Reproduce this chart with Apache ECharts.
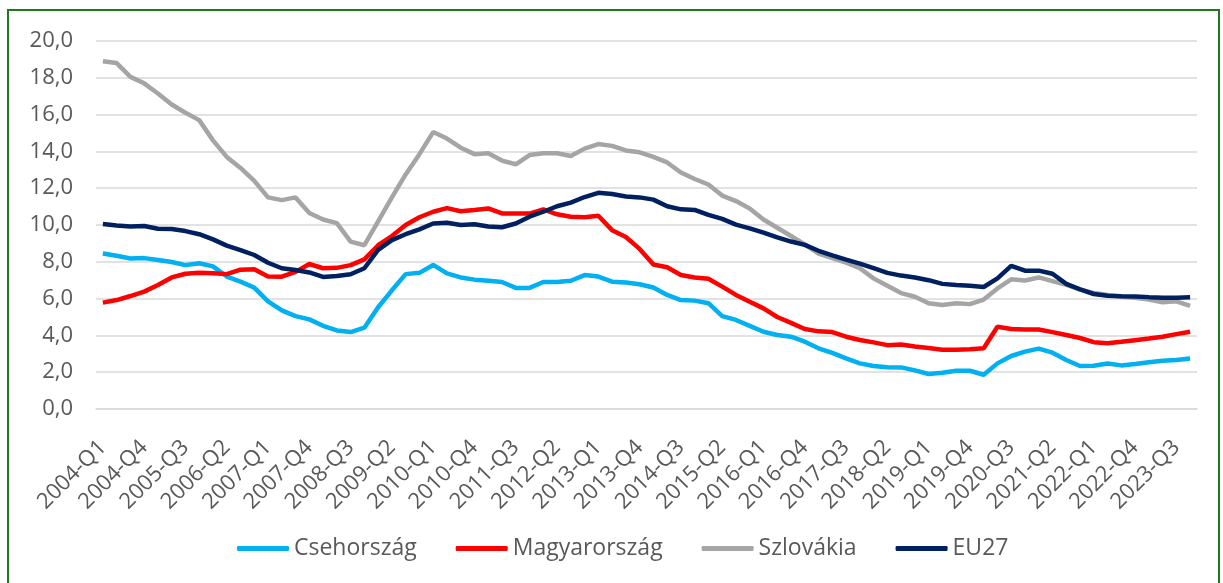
<!DOCTYPE html>
<html>
<head>
<meta charset="utf-8">
<script src="https://cdn.jsdelivr.net/npm/echarts@6/dist/echarts.min.js"></script>
<style>
    html, body { margin: 0; padding: 0; background: #fff; }
    #frame {
        position: absolute; left: 7px; top: 9px; width: 1213px; height: 600px;
        border-left: 2px solid #1f7a1f; border-top: 2px solid #1f7a1f; border-right: 2px solid #1f7a1f;
        box-sizing: border-box;
    }
    #chart { position: absolute; left: 0; top: 0; width: 1223px; height: 583px; }
</style>
</head>
<body>
<div id="frame"></div>
<div id="chart"></div>
<script>
    // negyedéves kategóriák 2004-Q1 ... 2023-Q4
    var years = [];
    for (var y = 2004; y <= 2023; y++) years.push(y);
    var quarters = ['Q1', 'Q2', 'Q3', 'Q4'];
    var categories = [];
    years.forEach(function (y) {
        quarters.forEach(function (q) { categories.push(y + '-' + q); });
    });

    var seriesNames = ['Csehország', 'Magyarország', 'Szlovákia', 'EU27'];
    var seriesColors = ['#00b0f0', '#ff0000', '#a5a5a5', '#002060'];

    var csehorszag = [
        8.45, 8.33, 8.18, 8.2, 8.1, 7.99, 7.82, 7.92, 7.75, 7.2,
        6.92, 6.6, 5.85, 5.36, 5.05, 4.87, 4.52, 4.27, 4.18, 4.42,
        5.53, 6.45, 7.33, 7.4, 7.83, 7.37, 7.15, 7.03, 6.97, 6.9,
        6.58, 6.58, 6.9, 6.9, 6.97, 7.28, 7.2, 6.92, 6.87, 6.78,
        6.6, 6.2, 5.92, 5.89, 5.75, 5.05, 4.84, 4.52, 4.2, 4.02,
        3.93, 3.66, 3.3, 3.05, 2.75, 2.48, 2.34, 2.27, 2.26, 2.1,
        1.9, 1.97, 2.08, 2.08, 1.86, 2.48, 2.88, 3.12, 3.28, 3.06,
        2.66, 2.34, 2.35, 2.47, 2.37, 2.45, 2.54, 2.62, 2.66, 2.75
    ];
    var magyarorszag = [
        5.78, 5.92, 6.14, 6.38, 6.74, 7.15, 7.35, 7.4, 7.38, 7.33,
        7.57, 7.6, 7.2, 7.19, 7.45, 7.88, 7.65, 7.67, 7.82, 8.13,
        8.9, 9.4, 10.0, 10.42, 10.72, 10.92, 10.75, 10.82, 10.9, 10.63,
        10.62, 10.62, 10.85, 10.58, 10.45, 10.42, 10.5, 9.72, 9.35, 8.7,
        7.85, 7.7, 7.28, 7.15, 7.08, 6.65, 6.2, 5.83, 5.47, 5.0,
        4.68, 4.35, 4.22, 4.18, 3.93, 3.75, 3.62, 3.47, 3.51, 3.4,
        3.32, 3.22, 3.22, 3.25, 3.3, 4.47, 4.35, 4.32, 4.32, 4.18,
        4.02, 3.86, 3.63, 3.57, 3.65, 3.74, 3.83, 3.93, 4.07, 4.2
    ];
    var szlovakia = [
        18.9, 18.8, 18.05, 17.7, 17.15, 16.55, 16.1, 15.7, 14.6, 13.7,
        13.1, 12.4, 11.5, 11.35, 11.5, 10.65, 10.3, 10.1, 9.1, 8.9,
        10.2, 11.5, 12.75, 13.85, 15.05, 14.7, 14.2, 13.85, 13.9, 13.5,
        13.3, 13.8, 13.9, 13.9, 13.75, 14.15, 14.4, 14.3, 14.05, 13.95,
        13.7, 13.4, 12.85, 12.5, 12.2, 11.6, 11.3, 10.9, 10.3, 9.85,
        9.4, 8.95, 8.45, 8.2, 7.95, 7.65, 7.1, 6.7, 6.3, 6.1,
        5.75, 5.65, 5.75, 5.7, 5.95, 6.55, 7.05, 6.98, 7.15, 6.95,
        6.75, 6.5, 6.3, 6.2, 6.1, 6.05, 5.95, 5.8, 5.85, 5.6
    ];
    var eu27 = [
        10.05, 9.97, 9.92, 9.95, 9.8, 9.78, 9.67, 9.5, 9.22, 8.88,
        8.64, 8.37, 7.95, 7.65, 7.55, 7.42, 7.18, 7.23, 7.32, 7.65,
        8.65, 9.18, 9.5, 9.76, 10.08, 10.12, 10.0, 10.04, 9.92, 9.88,
        10.08, 10.45, 10.72, 11.02, 11.22, 11.52, 11.75, 11.68, 11.55, 11.5,
        11.38, 11.02, 10.85, 10.82, 10.55, 10.33, 10.02, 9.82, 9.58, 9.33,
        9.1, 8.92, 8.6, 8.35, 8.12, 7.9, 7.65, 7.4, 7.25, 7.15,
        7.0, 6.8, 6.74, 6.7, 6.63, 7.1, 7.78, 7.52, 7.52, 7.35,
        6.8, 6.5, 6.25, 6.16, 6.13, 6.12, 6.08, 6.05, 6.05, 6.07
    ];
    var seriesData = [csehorszag, magyarorszag, szlovakia, eu27];

    var myChart = echarts.init(document.getElementById('chart'));
    var fontFamily = '"Open Sans", "DejaVu Sans", sans-serif';
    var option = {
        animation: false,
        textStyle: { fontFamily: fontFamily },
        color: seriesColors,
        grid: { left: 96, right: 26, top: 41, bottom: 174, containLabel: false },
        legend: {
            left: 237,
            top: 537,
            padding: 0,
            icon: 'roundRect',
            itemWidth: 52,
            itemHeight: 5,
            itemGap: 39,
            textStyle: { color: '#595959', fontSize: 23, fontFamily: fontFamily },
            data: seriesNames
        },
        xAxis: {
            type: 'category',
            boundaryGap: true,
            data: categories,
            axisLine: { lineStyle: { color: '#d9d9d9', width: 1.5 } },
            axisTick: { show: false },
            axisLabel: {
                interval: 2,
                rotate: 45,
                margin: 35,
                color: '#595959',
                fontSize: 22,
                fontFamily: fontFamily
            }
        },
        yAxis: {
            type: 'value',
            min: 0,
            max: 20,
            interval: 2,
            axisLine: { show: false },
            axisTick: { show: false },
            splitLine: { lineStyle: { color: '#d9d9d9', width: 1.5 } },
            axisLabel: {
                margin: 23,
                color: '#595959',
                fontSize: 22,
                fontFamily: fontFamily,
                formatter: function (v) { return v.toFixed(1).replace('.', ','); }
            }
        },
        series: seriesNames.map(function (name, i) {
            return {
                name: name,
                type: 'line',
                data: seriesData[i],
                symbol: 'none',
                lineStyle: { width: 4.5, color: seriesColors[i] }
            };
        })
    };
    myChart.setOption(option);
</script>
</body>
</html>
